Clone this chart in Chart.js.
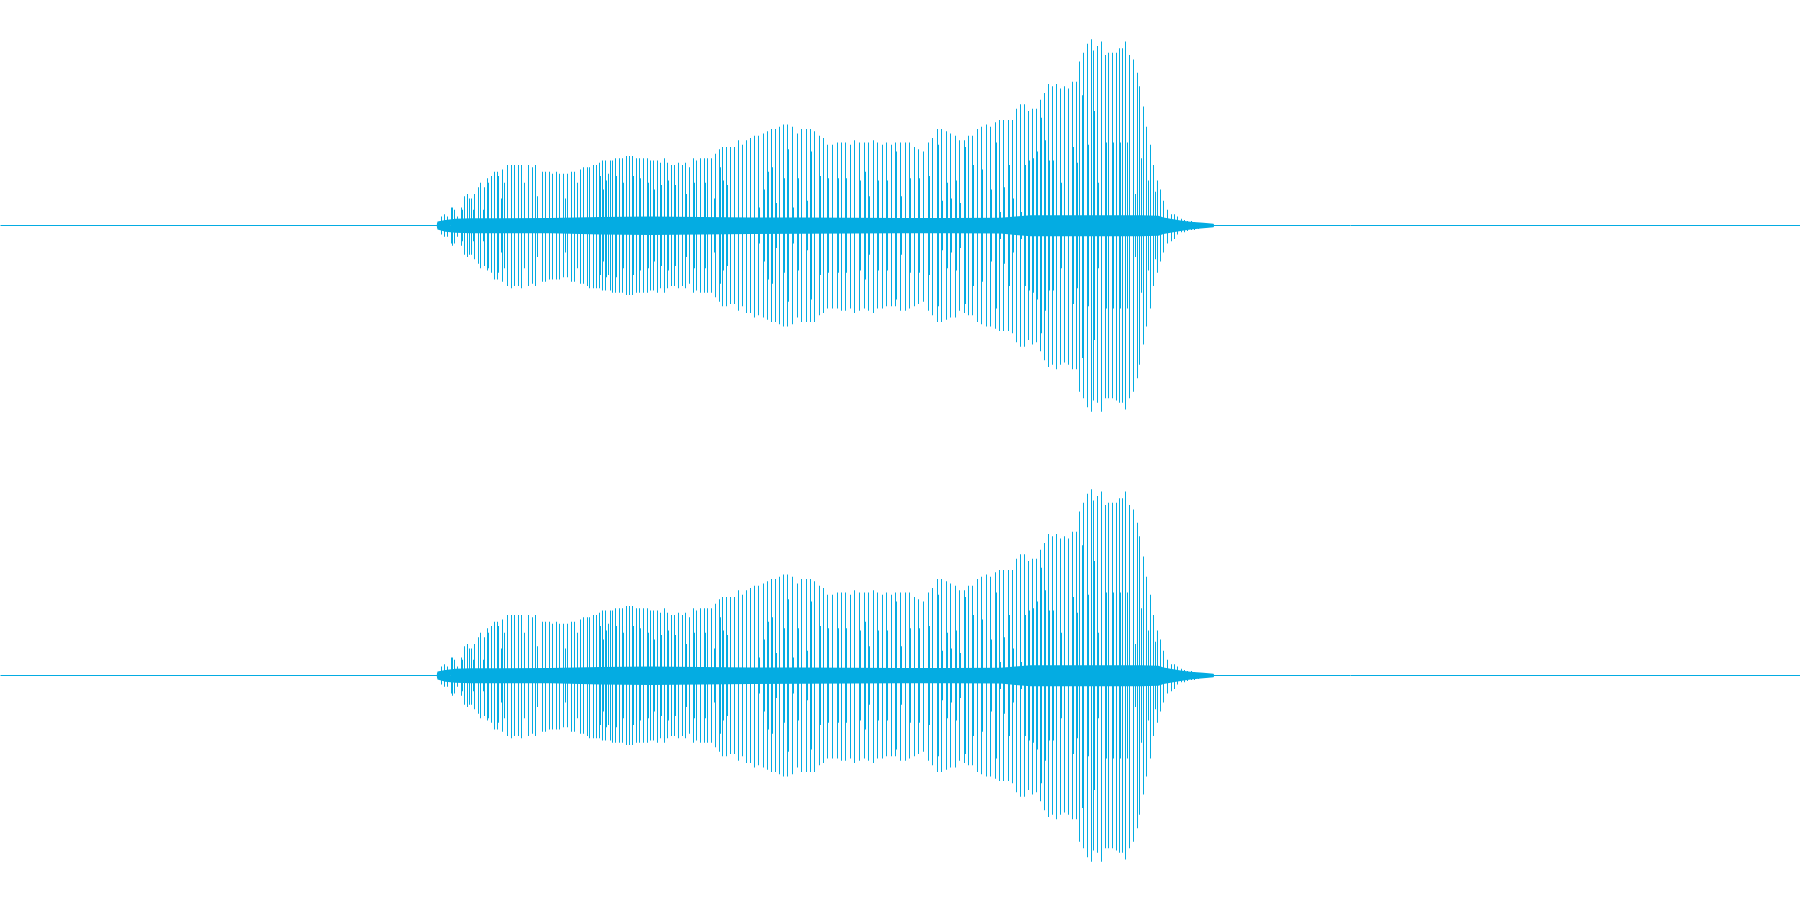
<!DOCTYPE html>
<html>
<head>
<meta charset="utf-8">
<script src="https://cdn.jsdelivr.net/npm/chart.js@4/dist/chart.umd.min.js"></script>
<style>
html,body{margin:0;padding:0;background:#ffffff;overflow:hidden;}
.ch{position:absolute;left:0;width:1800px;height:450px;}
</style>
</head>
<body>
<div class="ch" style="top:0px"><canvas id="ch1" width="1800" height="450"></canvas></div>
<div class="ch" style="top:450px"><canvas id="ch2" width="1800" height="450"></canvas></div>
<script>
// Clip length (ms) shown across the full width
const durationMs = 1800;

// Per-column peak spikes of the waveform: time (ms), positive peak, negative peak (magnitude, normalised 0..1)
const spikeMs = [441,444,447,451,452,454,457,461,462,464,467,469,471,473,474,478,480,483,484,487,488,491,494,497,498,501,502,504,507,511,514,518,521,524,528,532,535,537,542,545,549,552,556,559,563,565,567,571,574,577,580,583,587,589,593,596,599,600,602,603,605,606,608,610,612,615,616,619,622,623,626,629,632,633,636,639,640,643,647,648,650,653,654,657,660,661,664,667,668,671,674,675,678,682,685,686,689,693,694,696,700,704,705,707,711,714,715,719,720,722,723,726,727,730,734,738,742,746,750,754,758,759,763,764,767,768,771,772,775,776,779,783,784,787,788,792,793,797,798,801,806,807,810,811,814,819,820,823,827,828,832,837,838,841,845,846,850,854,859,860,864,865,868,869,873,877,878,882,886,887,891,895,896,900,901,905,909,910,914,918,919,923,928,929,932,937,938,941,942,946,947,950,951,955,956,959,960,964,965,968,972,973,977,981,982,986,990,991,995,996,999,1000,1003,1004,1008,1009,1012,1013,1016,1020,1021,1024,1025,1028,1029,1032,1033,1036,1037,1040,1041,1044,1045,1048,1049,1052,1053,1056,1060,1061,1064,1068,1072,1073,1076,1077,1079,1082,1083,1087,1088,1091,1093,1094,1097,1098,1101,1105,1106,1108,1112,1113,1116,1119,1120,1122,1125,1127,1129,1133,1135,1137,1139,1141,1143,1146,1148,1150,1153,1155,1157,1160,1163,1167,1171,1174,1177,1181,1184,1187,1191,1194,1198,1202];
const spikeTop = [.04,.05,.04,.08,.08,.07,.04,.08,.07,.13,.14,.12,.12,.07,.14,.17,.19,.07,.17,.21,.19,.22,.24,.24,.22,.12,.25,.19,.27,.27,.27,.27,.27,.19,.27,.26,.27,.13,.24,.24,.24,.23,.24,.23,.23,.12,.23,.24,.24,.19,.25,.26,.26,.26,.27,.27,.28,.22,.29,.16,.29,.20,.23,.29,.29,.30,.22,.30,.30,.19,.31,.31,.31,.22,.30,.30,.21,.30,.30,.19,.29,.29,.16,.29,.28,.18,.30,.28,.20,.27,.27,.18,.28,.27,.28,.14,.26,.30,.19,.29,.30,.30,.19,.30,.30,.12,.32,.34,.26,.35,.20,.35,.18,.35,.35,.38,.36,.38,.39,.40,.40,.08,.41,.16,.42,.24,.43,.26,.43,.10,.44,.45,.21,.45,.34,.44,.08,.41,.21,.43,.43,.11,.43,.33,.42,.40,.22,.39,.36,.21,.36,.37,.21,.37,.37,.21,.36,.38,.37,.20,.37,.24,.37,.13,.38,.37,.20,.36,.37,.20,.36,.37,.33,.37,.13,.37,.37,.21,.35,.34,.21,.33,.37,.22,.39,.43,.36,.43,.11,.42,.19,.41,.12,.40,.20,.38,.10,.38,.35,.40,.40,.27,.43,.44,.25,.45,.44,.16,.46,.37,.47,.06,.47,.17,.47,.27,.47,.12,.52,.54,.06,.54,.27,.51,.29,.52,.30,.52,.33,.56,.48,.59,.38,.63,.29,.62,.29,.63,.61,.19,.62,.61,.64,.35,.64,.28,.73,.58,.77,.81,.36,.83,.78,.51,.80,.19,.82,.76,.37,.77,.77,.37,.77,.79,.37,.79,.82,.37,.76,.74,.14,.68,.62,.30,.53,.44,.20,.36,.27,.15,.20,.16,.11,.07,.05,.05,.04,.03,.025,.02,.02,.015,.01,.01];
const spikeBottom = [.04,.05,.05,.08,.09,.08,.05,.09,.07,.13,.14,.13,.13,.07,.15,.17,.19,.07,.18,.20,.19,.21,.24,.24,.21,.12,.25,.19,.27,.28,.27,.27,.28,.19,.27,.26,.27,.14,.25,.25,.24,.24,.24,.24,.23,.12,.23,.25,.25,.19,.26,.26,.27,.28,.28,.28,.28,.22,.29,.16,.29,.23,.22,.29,.30,.30,.23,.30,.30,.19,.31,.31,.31,.22,.30,.30,.20,.30,.30,.19,.29,.29,.16,.30,.28,.18,.30,.28,.20,.27,.27,.18,.28,.27,.28,.14,.26,.30,.19,.29,.30,.30,.19,.30,.30,.12,.32,.34,.26,.36,.20,.36,.18,.35,.35,.38,.36,.39,.39,.41,.40,.08,.41,.16,.42,.24,.43,.26,.43,.10,.44,.45,.21,.45,.34,.44,.08,.41,.20,.43,.43,.11,.43,.33,.43,.40,.22,.39,.37,.21,.37,.37,.21,.38,.38,.21,.37,.39,.38,.20,.37,.24,.38,.13,.39,.37,.20,.37,.36,.20,.36,.36,.33,.38,.13,.38,.37,.21,.36,.35,.21,.34,.38,.22,.40,.43,.36,.43,.11,.42,.19,.41,.12,.41,.20,.38,.10,.39,.35,.40,.40,.27,.43,.44,.25,.45,.45,.16,.46,.37,.47,.06,.47,.17,.47,.27,.48,.12,.52,.54,.06,.54,.27,.51,.29,.53,.30,.52,.33,.56,.48,.60,.38,.63,.29,.62,.29,.64,.62,.19,.61,.62,.64,.35,.64,.28,.74,.59,.77,.81,.36,.83,.78,.51,.79,.19,.83,.77,.37,.77,.77,.37,.78,.79,.37,.79,.82,.37,.77,.74,.14,.68,.62,.30,.53,.45,.20,.37,.27,.15,.21,.16,.12,.08,.07,.06,.04,.03,.03,.025,.02,.02,.015,.01];

// Dense low-level body of the signal: time (ms), upper and lower envelope (normalised)
const coreMs    = [436,437,445,455,470,500,550,600,650,700,750,800,850,900,950,1000,1015,1030,1060,1100,1140,1158,1163,1170,1180,1190,1203,1213,1214];
const coreUpper = [0,.018,.025,.030,.032,.032,.033,.038,.040,.038,.036,.036,.034,.033,.033,.034,.040,.046,.046,.046,.046,.044,.036,.030,.022,.017,.012,.008,0];
const coreLower = [0,.018,.028,.032,.034,.035,.035,.040,.042,.040,.038,.037,.036,.035,.035,.036,.042,.048,.048,.048,.048,.046,.038,.032,.024,.018,.012,.008,0];

const WAVE = 'rgb(4,172,226)';

function buildChannel(id) {
  const spikes = spikeMs.map((t, i) => ({ x: t, y: [-spikeBottom[i], spikeTop[i]] }));
  const up = coreMs.map((t, i) => ({ x: t, y: coreUpper[i] }));
  const lo = coreMs.map((t, i) => ({ x: t, y: -coreLower[i] }));
  new Chart(document.getElementById(id), {
    type: 'bar',
    data: {
      datasets: [
        { type: 'line', data: [{ x: 0, y: 0 }, { x: durationMs, y: 0 }], borderColor: WAVE, borderWidth: 1, pointRadius: 0, fill: false, tension: 0 },
        { type: 'line', data: up, borderWidth: 0, borderColor: WAVE, backgroundColor: WAVE, pointRadius: 0, fill: 'origin', tension: 0 },
        { type: 'line', data: lo, borderWidth: 0, borderColor: WAVE, backgroundColor: WAVE, pointRadius: 0, fill: 'origin', tension: 0 },
        { type: 'bar', data: spikes, backgroundColor: WAVE, borderWidth: 0, barThickness: 1, grouped: false, inflateAmount: 0 }
      ]
    },
    options: {
      responsive: false,
      animation: false,
      devicePixelRatio: 1,
      events: [],
      layout: { padding: 0 },
      plugins: { legend: { display: false }, tooltip: { enabled: false } },
      scales: {
        x: { type: 'linear', display: false, offset: false, min: -0.5, max: durationMs - 0.5 },
        y: { display: false, min: -1, max: 1.0045 }
      }
    }
  });
}

buildChannel('ch1');
buildChannel('ch2');
</script>
</body>
</html>
